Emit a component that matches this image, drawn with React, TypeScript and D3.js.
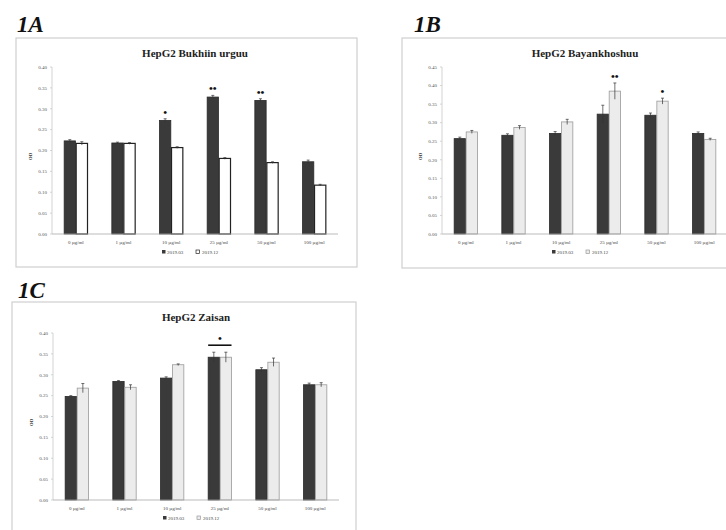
import * as d3 from "d3";
import React from "react";

const categories = ["0 µg/ml", "1 µg/ml", "10 µg/ml", "25 µg/ml", "50 µg/ml", "100 µg/ml"];
const seriesNames = ["2019.03", "2019.12"];

const bukhiinMar = [0.223, 0.218, 0.272, 0.328, 0.32, 0.173];
const bukhiinDec = [0.217, 0.217, 0.207, 0.181, 0.171, 0.117];
const bukhiinErrMar = [0.003, 0.002, 0.004, 0.004, 0.004, 0.004];
const bukhiinErrDec = [0.004, 0.002, 0.002, 0.002, 0.002, 0.002];
const bukhiinStars = [["", ""], ["", ""], ["*", ""], ["**", ""], ["**", ""], ["", ""]];

const bayanMar = [0.257, 0.266, 0.271, 0.323, 0.32, 0.271];
const bayanDec = [0.275, 0.287, 0.302, 0.385, 0.358, 0.255];
const bayanErrMar = [0.004, 0.004, 0.005, 0.024, 0.006, 0.004];
const bayanErrDec = [0.004, 0.005, 0.007, 0.022, 0.008, 0.003];
const bayanStars = [["", ""], ["", ""], ["", ""], ["", "**"], ["", "*"], ["", ""]];

const zaisanMar = [0.248, 0.284, 0.292, 0.342, 0.312, 0.276];
const zaisanDec = [0.268, 0.27, 0.324, 0.342, 0.33, 0.276];
const zaisanErrMar = [0.002, 0.002, 0.003, 0.012, 0.005, 0.004];
const zaisanErrDec = [0.011, 0.006, 0.002, 0.012, 0.01, 0.005];
const zaisanBracket = [false, false, false, true, false, false];

const yTicksA = [0, 0.05, 0.1, 0.15, 0.2, 0.25, 0.3, 0.35, 0.4];
const yTicksB = [0, 0.05, 0.1, 0.15, 0.2, 0.25, 0.3, 0.35, 0.4, 0.45];
const yTicksC = [0, 0.05, 0.1, 0.15, 0.2, 0.25, 0.3, 0.35, 0.4];

const serif = "'Liberation Serif', 'DejaVu Serif', serif";

type PanelProps = {
  label: string;
  labelX: number;
  labelY: number;
  title: string;
  frame: [number, number, number, number];
  plot: { left: number; right: number; top: number; bottom: number };
  yMax: number;
  ticks: number[];
  mar: number[];
  dec: number[];
  errMar: number[];
  errDec: number[];
  stars?: string[][];
  bracket?: boolean[];
  whiteDec?: boolean;
};

function Panel(p: PanelProps) {
  const x = d3
    .scaleBand<string>()
    .domain(categories)
    .range([p.plot.left, p.plot.right])
    .paddingInner(0.48)
    .paddingOuter(0.24);
  const xs = d3.scaleBand<string>().domain(seriesNames).range([0, x.bandwidth()]).padding(0.06);
  const y = d3.scaleLinear().domain([0, p.yMax]).range([p.plot.bottom, p.plot.top]);
  const [fx, fy, fw, fh] = p.frame;
  const cx = (p.plot.left + p.plot.right) / 2;
  const decFill = p.whiteDec ? "#ffffff" : "#ececec";
  const decStroke = p.whiteDec ? "#222" : "#9a9a9a";

  return (
    <g>
      <text x={p.labelX} y={p.labelY} fontFamily={serif} fontWeight="bold" fontStyle="italic" fontSize={23} fill="#111">
        {p.label}
      </text>
      <rect x={fx} y={fy} width={fw} height={fh} fill="#fff" stroke="#cfcfcf" strokeWidth={1.2} />
      <text x={cx} y={fy + 19} textAnchor="middle" fontFamily={serif} fontWeight="bold" fontSize={11} fill="#222">
        {p.title}
      </text>
      <text
        transform={`translate(${p.plot.left - 20},${(p.plot.top + p.plot.bottom) / 2 + 6}) rotate(-90)`}
        textAnchor="middle"
        fontFamily={serif}
        fontWeight="bold"
        fontSize={5}
        fill="#333"
      >
        OD
      </text>
      {p.ticks.map((t) => (
        <g key={t}>
          <line x1={p.plot.left - 2} x2={p.plot.left} y1={y(t)} y2={y(t)} stroke="#bbb" strokeWidth={0.6} />
          <text x={p.plot.left - 5} y={y(t) + 1.8} textAnchor="end" fontFamily={serif} fontSize={5} fill="#555">
            {d3.format(".2f")(t)}
          </text>
        </g>
      ))}
      <line x1={p.plot.left} x2={p.plot.left} y1={p.plot.top} y2={p.plot.bottom} stroke="#c8c8c8" strokeWidth={0.8} />
      {categories.map((c, i) => {
        const x0 = x(c) ?? 0;
        const xm = x0 + (xs(seriesNames[0]) ?? 0);
        const xd = x0 + (xs(seriesNames[1]) ?? 0);
        const bw = xs.bandwidth();
        const items = [
          { xx: xm, v: p.mar[i], e: p.errMar[i], fill: "#3a3a3a", stroke: "#2a2a2a", star: p.stars?.[i][0] ?? "" },
          { xx: xd, v: p.dec[i], e: p.errDec[i], fill: decFill, stroke: decStroke, star: p.stars?.[i][1] ?? "" },
        ];
        const topY = y(Math.max(items[0].v + items[0].e, items[1].v + items[1].e));
        return (
          <g key={c}>
            {items.map((b, j) => (
              <g key={j}>
                <rect
                  x={b.xx}
                  y={y(b.v)}
                  width={bw}
                  height={y(0) - y(b.v)}
                  fill={b.fill}
                  stroke={b.stroke}
                  strokeWidth={p.whiteDec && j === 1 ? 1.2 : 0.8}
                />
                <line x1={b.xx + bw / 2} x2={b.xx + bw / 2} y1={y(b.v + b.e)} y2={y(b.v - b.e)} stroke="#333" strokeWidth={0.7} />
                <line x1={b.xx + bw / 2 - 1.5} x2={b.xx + bw / 2 + 1.5} y1={y(b.v + b.e)} y2={y(b.v + b.e)} stroke="#333" strokeWidth={0.7} />
                {b.star && (
                  <text x={b.xx + bw / 2} y={y(b.v + b.e) - 3} textAnchor="middle" fontFamily={serif} fontWeight="bold" fontSize={11} fill="#111">
                    {b.star.split("").map(() => "•").join("")}
                  </text>
                )}
              </g>
            ))}
            {p.bracket?.[i] && (
              <g>
                <line x1={xm} x2={xd + bw} y1={topY - 7} y2={topY - 7} stroke="#111" strokeWidth={1.6} />
                <text x={x0 + x.bandwidth() / 2} y={topY - 10} textAnchor="middle" fontFamily={serif} fontWeight="bold" fontSize={11} fill="#111">
                  •
                </text>
              </g>
            )}
            <text x={x0 + x.bandwidth() / 2} y={p.plot.bottom + 10} textAnchor="middle" fontFamily={serif} fontSize={5} fill="#444">
              {c}
            </text>
          </g>
        );
      })}
      <line x1={p.plot.left} x2={p.plot.right} y1={p.plot.bottom} y2={p.plot.bottom} stroke="#aaa" strokeWidth={0.8} />
      <g transform={`translate(${cx - 33},${p.plot.bottom + 20})`}>
        <rect x={0} y={-4} width={3.5} height={3.5} fill="#3a3a3a" />
        <text x={5} y={0} fontFamily={serif} fontSize={5} fill="#444">
          {seriesNames[0]}
        </text>
        <rect x={34} y={-4} width={3.5} height={3.5} fill={decFill} stroke={decStroke} strokeWidth={0.7} />
        <text x={40} y={0} fontFamily={serif} fontSize={5} fill="#444">
          {seriesNames[1]}
        </text>
      </g>
    </g>
  );
}

export default function App() {
  return (
    <svg
      width={726}
      height={530}
      viewBox="0 0 726 530"
      style={{ position: "absolute", left: 0, top: 0, background: "#fff" }}
    >
      <rect width={726} height={530} fill="#fff" />
      <Panel
        label="1A"
        labelX={17}
        labelY={32}
        title="HepG2 Bukhiin urguu"
        frame={[16, 38, 341, 229]}
        plot={{ left: 52, right: 338, top: 67, bottom: 234 }}
        yMax={0.4}
        ticks={yTicksA}
        mar={bukhiinMar}
        dec={bukhiinDec}
        errMar={bukhiinErrMar}
        errDec={bukhiinErrDec}
        stars={bukhiinStars}
        whiteDec
      />
      <Panel
        label="1B"
        labelX={414}
        labelY={32}
        title="HepG2 Bayankhoshuu"
        frame={[402, 38, 330, 230]}
        plot={{ left: 442, right: 728, top: 67, bottom: 234 }}
        yMax={0.45}
        ticks={yTicksB}
        mar={bayanMar}
        dec={bayanDec}
        errMar={bayanErrMar}
        errDec={bayanErrDec}
        stars={bayanStars}
      />
      <Panel
        label="1C"
        labelX={18}
        labelY={298}
        title="HepG2 Zaisan"
        frame={[12, 302, 344, 235]}
        plot={{ left: 53, right: 339, top: 333, bottom: 500 }}
        yMax={0.4}
        ticks={yTicksC}
        mar={zaisanMar}
        dec={zaisanDec}
        errMar={zaisanErrMar}
        errDec={zaisanErrDec}
        bracket={zaisanBracket}
      />
    </svg>
  );
}
